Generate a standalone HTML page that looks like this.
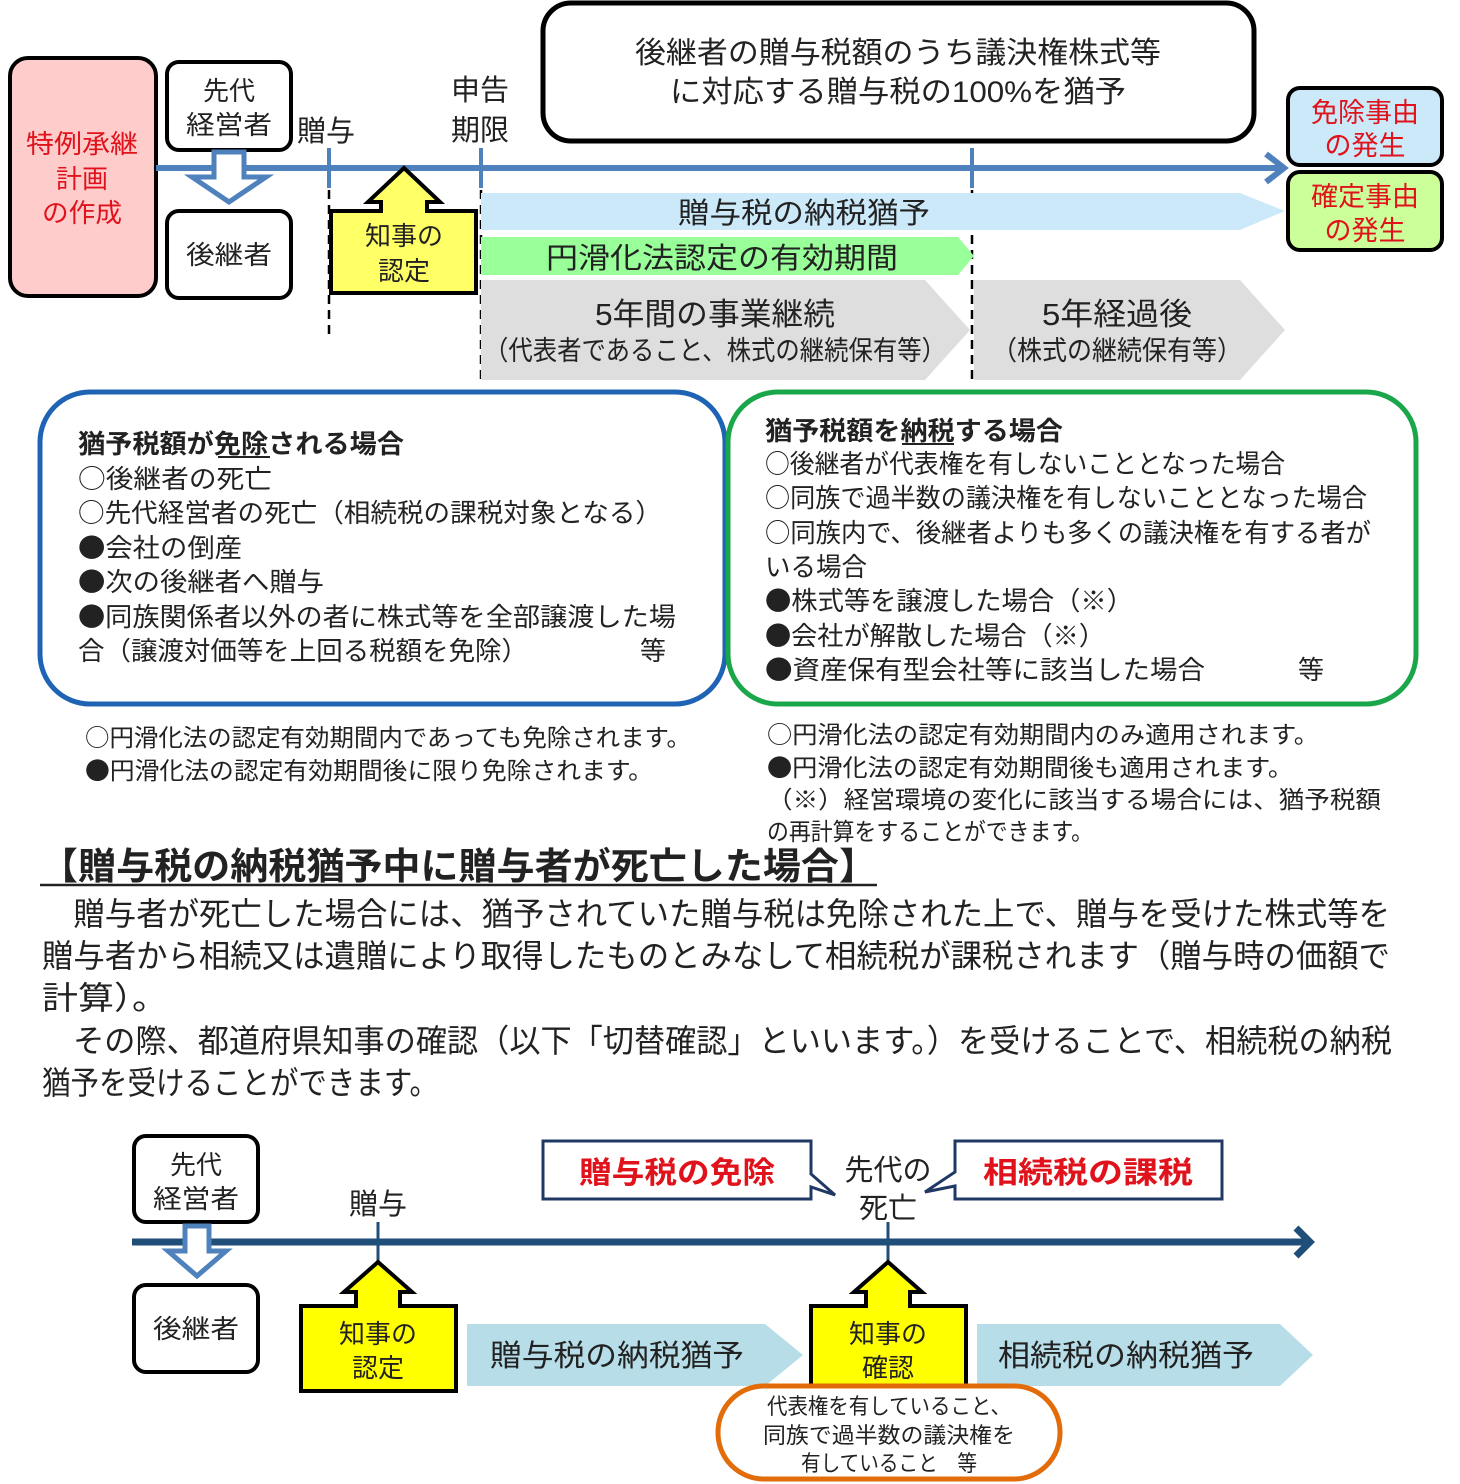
<!DOCTYPE html>
<html><head><meta charset="utf-8"><style>
html,body{margin:0;padding:0;background:#fff;}
svg{display:block;}
text{font-family:"Liberation Sans","Noto Sans CJK JP",sans-serif;fill:#222;}
.cjk text{font-family:"Noto Sans CJK JP","Liberation Sans",sans-serif;}
.r{fill:#e0121b;}
</style></head><body>
<svg width="1460" height="1484" viewBox="0 0 1460 1484" xmlns="http://www.w3.org/2000/svg">
<!-- TOP -->
<rect x="10" y="58" width="146" height="238" rx="18" fill="#ffcccc" stroke="#000" stroke-width="4"/>
<g font-size="26" text-anchor="middle">
<text class="r" x="82" y="153" textLength="112" lengthAdjust="spacingAndGlyphs">特例承継</text>
<text class="r" x="82" y="188">計画</text>
<text class="r" x="82" y="222" textLength="80" lengthAdjust="spacingAndGlyphs">の作成</text>
</g>
<rect x="167" y="62" width="124" height="88" rx="12" fill="#fff" stroke="#000" stroke-width="4"/>
<rect x="167" y="211" width="124" height="87" rx="12" fill="#fff" stroke="#000" stroke-width="4"/>
<g font-size="26" text-anchor="middle">
<text x="229" y="100">先代</text>
<text x="229" y="134" textLength="86" lengthAdjust="spacingAndGlyphs">経営者</text>
<text x="229" y="264" textLength="86" lengthAdjust="spacingAndGlyphs">後継者</text>
</g>
<line x1="156" y1="168" x2="1280" y2="168" stroke="#4f81bd" stroke-width="6"/>
<polyline points="1266,154 1284,168 1266,182" fill="none" stroke="#4f81bd" stroke-width="6"/>
<path d="M214,152 L244,152 L244,177 L266,177 L229,202 L192,177 L214,177 Z" fill="#fff" stroke="#4f81bd" stroke-width="5"/>
<g stroke="#4f81bd" stroke-width="4">
<line x1="329" y1="148" x2="329" y2="188"/>
<line x1="481" y1="148" x2="481" y2="188"/>
<line x1="972" y1="148" x2="972" y2="188"/>
</g>
<g stroke="#000" stroke-width="2.5" stroke-dasharray="9,6">
<line x1="329" y1="190" x2="329" y2="340"/>
<line x1="481" y1="190" x2="481" y2="380"/>
<line x1="972" y1="190" x2="972" y2="380"/>
</g>
<text x="297" y="141" font-size="29">贈与</text>
<text x="451" y="100" font-size="29">申告</text>
<text x="451" y="140" font-size="29">期限</text>
<rect x="543" y="3" width="711" height="138" rx="28" fill="#fff" stroke="#000" stroke-width="5"/>
<rect x="547" y="7" width="703" height="130" rx="25" fill="none" stroke="#fff" stroke-width="1.5"/>
<g font-size="30" text-anchor="middle">
<text x="898" y="63" textLength="526" lengthAdjust="spacingAndGlyphs">後継者の贈与税額のうち議決権株式等</text>
<text x="898" y="102" textLength="456" lengthAdjust="spacingAndGlyphs">に対応する贈与税の100%を猶予</text>
</g>
<path d="M481,193 L1240,193 L1285,211 L1240,230 L481,230 Z" fill="#cce9f9"/>
<text x="804" y="223" font-size="29" text-anchor="middle" textLength="252" lengthAdjust="spacingAndGlyphs">贈与税の納税猶予</text>
<path d="M481,237 L958,237 L974,256 L958,275 L481,275 Z" fill="#99ff99"/>
<text x="722" y="268" font-size="29" text-anchor="middle" textLength="352" lengthAdjust="spacingAndGlyphs">円滑化法認定の有効期間</text>
<path d="M481,280 L925,280 L970,330 L925,380 L481,380 Z" fill="#dedede"/>
<path d="M974,280 L1240,280 L1285,330 L1240,380 L974,380 Z" fill="#dedede"/>
<g text-anchor="middle">
<text x="715" y="325" font-size="31" textLength="240" lengthAdjust="spacingAndGlyphs">5年間の事業継続</text>
<text x="715" y="360" font-size="27" textLength="462" lengthAdjust="spacingAndGlyphs">（代表者であること、株式の継続保有等）</text>
<text x="1117" y="325" font-size="31" textLength="150" lengthAdjust="spacingAndGlyphs">5年経過後</text>
<text x="1117" y="360" font-size="27" textLength="250" lengthAdjust="spacingAndGlyphs">（株式の継続保有等）</text>
</g>
<path d="M404,168 L440,202 L427,202 L427,211 L476,211 L476,293 L331,293 L331,211 L381,211 L381,202 L368,202 Z" fill="#ffff66" stroke="#000" stroke-width="4"/>
<g font-size="26" text-anchor="middle">
<text x="404" y="245">知事の</text>
<text x="404" y="280">認定</text>
</g>
<rect x="1288" y="88" width="154" height="77" rx="12" fill="#cce9f9" stroke="#000" stroke-width="4"/>
<rect x="1288" y="172" width="154" height="78" rx="12" fill="#ccff99" stroke="#000" stroke-width="4"/>
<g font-size="27" text-anchor="middle">
<text class="r" x="1365" y="122">免除事由</text>
<text class="r" x="1365" y="155">の発生</text>
<text class="r" x="1365" y="206">確定事由</text>
<text class="r" x="1365" y="240">の発生</text>
</g>
<!-- MIDDLE -->
<rect x="40" y="392" width="685" height="312" rx="50" fill="#fff" stroke="#1f64b4" stroke-width="5"/>
<rect x="728" y="392" width="688" height="312" rx="50" fill="#fff" stroke="#1aa64a" stroke-width="5"/>
<g font-size="26" class="cjk">
<text x="78" y="453" font-weight="bold" textLength="326" lengthAdjust="spacingAndGlyphs">猶予税額が免除される場合</text>
<line x1="218" y1="457" x2="270" y2="457" stroke="#222" stroke-width="2"/>
<text x="78" y="488" textLength="194" lengthAdjust="spacingAndGlyphs">○後継者の死亡</text>
<text x="78" y="522" textLength="584" lengthAdjust="spacingAndGlyphs">○先代経営者の死亡（相続税の課税対象となる）</text>
<text x="78" y="557" textLength="164" lengthAdjust="spacingAndGlyphs">●会社の倒産</text>
<text x="78" y="591" textLength="246" lengthAdjust="spacingAndGlyphs">●次の後継者へ贈与</text>
<text x="78" y="626" textLength="598" lengthAdjust="spacingAndGlyphs">●同族関係者以外の者に株式等を全部譲渡した場</text>
<text x="78" y="660" textLength="450" lengthAdjust="spacingAndGlyphs">合（譲渡対価等を上回る税額を免除）</text>
<text x="640" y="660">等</text>
<text x="765" y="440" font-weight="bold" textLength="298" lengthAdjust="spacingAndGlyphs">猶予税額を納税する場合</text>
<line x1="902" y1="444" x2="954" y2="444" stroke="#222" stroke-width="2"/>
<text x="765" y="473" textLength="520" lengthAdjust="spacingAndGlyphs">○後継者が代表権を有しないこととなった場合</text>
<text x="765" y="507" textLength="602" lengthAdjust="spacingAndGlyphs">○同族で過半数の議決権を有しないこととなった場合</text>
<text x="765" y="542" textLength="606" lengthAdjust="spacingAndGlyphs">○同族内で、後継者よりも多くの議決権を有する者が</text>
<text x="765" y="576" textLength="102" lengthAdjust="spacingAndGlyphs">いる場合</text>
<text x="765" y="610" textLength="368" lengthAdjust="spacingAndGlyphs">●株式等を譲渡した場合（※）</text>
<text x="765" y="645" textLength="340" lengthAdjust="spacingAndGlyphs">●会社が解散した場合（※）</text>
<text x="765" y="679" textLength="440" lengthAdjust="spacingAndGlyphs">●資産保有型会社等に該当した場合</text>
<text x="1298" y="679">等</text>
</g>
<g font-size="24" class="cjk">
<text x="85" y="746" textLength="606" lengthAdjust="spacingAndGlyphs">○円滑化法の認定有効期間内であっても免除されます。</text>
<text x="85" y="779" textLength="568" lengthAdjust="spacingAndGlyphs">●円滑化法の認定有効期間後に限り免除されます。</text>
<text x="767" y="743" textLength="552" lengthAdjust="spacingAndGlyphs">○円滑化法の認定有効期間内のみ適用されます。</text>
<text x="767" y="776" textLength="526" lengthAdjust="spacingAndGlyphs">●円滑化法の認定有効期間後も適用されます。</text>
<text x="767" y="808" textLength="614" lengthAdjust="spacingAndGlyphs">（※）経営環境の変化に該当する場合には、猶予税額</text>
<text x="767" y="840" textLength="326" lengthAdjust="spacingAndGlyphs">の再計算をすることができます。</text>
</g>
<text x="40" y="879" font-size="37" font-weight="bold" textLength="837" lengthAdjust="spacingAndGlyphs">【贈与税の納税猶予中に贈与者が死亡した場合】</text>
<line x1="40" y1="885" x2="877" y2="885" stroke="#222" stroke-width="2.5"/>
<g font-size="32">
<text x="42" y="925" textLength="1348" lengthAdjust="spacingAndGlyphs">　贈与者が死亡した場合には、猶予されていた贈与税は免除された上で、贈与を受けた株式等を</text>
<text x="42" y="967" textLength="1348" lengthAdjust="spacingAndGlyphs">贈与者から相続又は遺贈により取得したものとみなして相続税が課税されます（贈与時の価額で</text>
<text x="42" y="1009" textLength="126" lengthAdjust="spacingAndGlyphs">計算）。</text>
<text x="42" y="1052" textLength="1350" lengthAdjust="spacingAndGlyphs">　その際、都道府県知事の確認（以下「切替確認」といいます。）を受けることで、相続税の納税</text>
<text x="42" y="1094" textLength="396" lengthAdjust="spacingAndGlyphs">猶予を受けることができます。</text>
</g>
<!-- BOTTOM -->
<rect x="134" y="1136" width="124" height="86" rx="12" fill="#fff" stroke="#000" stroke-width="4"/>
<rect x="134" y="1285" width="124" height="87" rx="12" fill="#fff" stroke="#000" stroke-width="4"/>
<g font-size="26" text-anchor="middle">
<text x="196" y="1174">先代</text>
<text x="196" y="1208" textLength="86" lengthAdjust="spacingAndGlyphs">経営者</text>
<text x="196" y="1338" textLength="86" lengthAdjust="spacingAndGlyphs">後継者</text>
</g>
<line x1="132" y1="1242" x2="1308" y2="1242" stroke="#1f4e79" stroke-width="7"/>
<polyline points="1296,1228 1310,1242 1296,1256" fill="none" stroke="#1f4e79" stroke-width="7"/>
<path d="M185,1226 L209,1226 L209,1251 L226,1251 L197,1276 L168,1251 L185,1251 Z" fill="#fff" stroke="#4f81bd" stroke-width="5"/>
<g stroke="#1f4e79" stroke-width="3">
<line x1="378" y1="1222" x2="378" y2="1262"/>
<line x1="888" y1="1222" x2="888" y2="1262"/>
</g>
<text x="378" y="1214" font-size="29" text-anchor="middle">贈与</text>
<text x="888" y="1180" font-size="29" text-anchor="middle">先代の</text>
<text x="888" y="1218" font-size="29" text-anchor="middle">死亡</text>
<path d="M543,1141 L811,1141 L811,1174 L835,1195 L811,1187 L811,1199 L543,1199 Z" fill="#fff" stroke="#1f3864" stroke-width="3"/>
<text x="677" y="1183" font-size="30" font-weight="bold" text-anchor="middle" style="fill:#e0121b" textLength="196" lengthAdjust="spacingAndGlyphs">贈与税の免除</text>
<path d="M955,1141 L1222,1141 L1222,1199 L955,1199 L955,1186 L925,1192 L955,1172 Z" fill="#fff" stroke="#1f3864" stroke-width="3"/>
<text x="1088" y="1183" font-size="30" font-weight="bold" text-anchor="middle" style="fill:#e0121b" textLength="210" lengthAdjust="spacingAndGlyphs">相続税の課税</text>
<path d="M467,1324 L765,1324 L803,1355 L765,1386 L467,1386 Z" fill="#b7dde8"/>
<path d="M977,1324 L1280,1324 L1313,1355 L1280,1386 L977,1386 Z" fill="#b7dde8"/>
<text x="490" y="1366" font-size="30" textLength="254" lengthAdjust="spacingAndGlyphs">贈与税の納税猶予</text>
<text x="998" y="1366" font-size="30" textLength="256" lengthAdjust="spacingAndGlyphs">相続税の納税猶予</text>
<path d="M378,1262 L412,1292 L400,1292 L400,1306 L456,1306 L456,1391 L301,1391 L301,1306 L356,1306 L356,1292 L344,1292 Z" fill="#ffff00" stroke="#000" stroke-width="4"/>
<path d="M888,1262 L922,1292 L910,1292 L910,1306 L966,1306 L966,1395 L811,1395 L811,1306 L866,1306 L866,1292 L854,1292 Z" fill="#ffff00" stroke="#000" stroke-width="4"/>
<g font-size="26" text-anchor="middle">
<text x="378" y="1343">知事の</text>
<text x="378" y="1377">認定</text>
<text x="888" y="1343">知事の</text>
<text x="888" y="1377">確認</text>
</g>
<rect x="718" y="1386" width="342" height="93" rx="46" fill="#fff" stroke="#e36c0a" stroke-width="5"/>
<g font-size="22" text-anchor="middle">
<text x="889" y="1414" textLength="244" lengthAdjust="spacingAndGlyphs">代表権を有していること、</text>
<text x="889" y="1443" textLength="252" lengthAdjust="spacingAndGlyphs">同族で過半数の議決権を</text>
<text x="889" y="1471" textLength="176" lengthAdjust="spacingAndGlyphs">有していること　等</text>
</g>
</svg>
</body></html>
